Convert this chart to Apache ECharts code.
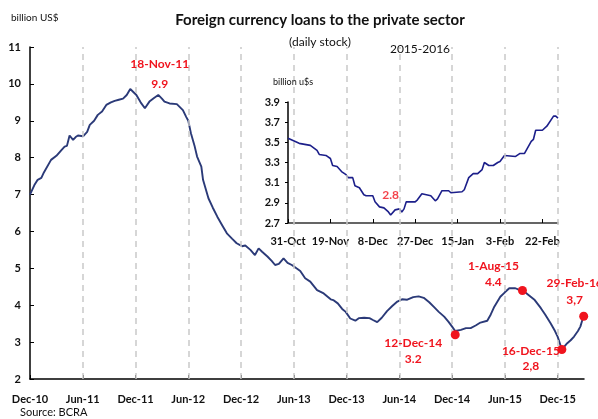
<!DOCTYPE html>
<html><head><meta charset="utf-8">
<script src="https://cdn.jsdelivr.net/npm/echarts@6/dist/echarts.min.js"></script>
<style>html,body{margin:0;padding:0;background:#fff}#c{width:598px;height:419px}</style>
</head><body><div id="c"></div>
<script>
// ---- main series: stock of foreign currency loans (billion US$) ----
const mainDates = ['2010-12-01','2010-12-16','2010-12-28','2011-01-10','2011-01-19','2011-02-12','2011-03-01','2011-03-18','2011-03-30','2011-04-07','2011-04-16','2011-04-22','2011-04-28','2011-05-07','2011-05-15','2011-06-02','2011-06-16','2011-06-25','2011-07-10','2011-07-23','2011-08-07','2011-08-22','2011-09-07','2011-09-20','2011-10-04','2011-10-19','2011-11-01','2011-11-13','2011-11-18','2011-12-04','2011-12-19','2012-01-03','2012-01-19','2012-02-04','2012-02-18','2012-03-01','2012-03-10','2012-03-28','2012-04-22','2012-05-13','2012-05-25','2012-06-01','2012-06-10','2012-06-23','2012-07-01','2012-07-16','2012-07-22','2012-08-10','2012-08-25','2012-09-10','2012-09-28','2012-10-13','2012-11-01','2012-11-16','2012-12-04','2012-12-16','2013-01-03','2013-01-19','2013-02-01','2013-02-12','2013-03-01','2013-03-16','2013-03-28','2013-04-10','2013-04-26','2013-05-10','2013-05-25','2013-06-10','2013-06-23','2013-07-10','2013-07-28','2013-08-21','2013-09-13','2013-10-07','2013-10-16','2013-11-01','2013-11-16','2013-11-28','2013-12-14','2014-01-01','2014-01-13','2014-02-01','2014-02-18','2014-03-01','2014-03-16','2014-04-01','2014-04-19','2014-05-07','2014-05-25','2014-06-10','2014-06-28','2014-07-19','2014-08-07','2014-08-25','2014-09-13','2014-09-28','2014-10-16','2014-11-04','2014-11-19','2014-12-01','2014-12-12','2015-01-01','2015-01-19','2015-02-04','2015-02-20','2015-03-08','2015-04-01','2015-04-13','2015-04-25','2015-05-16','2015-06-01','2015-06-16','2015-07-07','2015-07-19','2015-08-01','2015-08-19','2015-09-13','2015-10-04','2015-10-19','2015-11-07','2015-11-22','2015-12-01','2015-12-16','2016-01-04','2016-01-16','2016-01-28','2016-02-10','2016-02-18','2016-02-29'];
const mainValues = [7.0,7.25,7.4,7.45,7.6,7.94,8.05,8.2,8.3,8.32,8.6,8.58,8.48,8.56,8.6,8.58,8.7,8.89,9.0,9.16,9.25,9.43,9.5,9.54,9.57,9.6,9.7,9.86,9.88,9.7,9.5,9.34,9.52,9.62,9.7,9.6,9.52,9.47,9.45,9.29,9.1,9.0,8.66,8.3,8.03,7.76,7.4,6.9,6.65,6.4,6.15,5.95,5.8,5.68,5.6,5.62,5.5,5.36,5.54,5.45,5.32,5.2,5.09,5.12,5.27,5.15,5.09,5.0,4.93,4.73,4.64,4.41,4.32,4.16,4.14,4.05,3.9,3.82,3.64,3.58,3.65,3.66,3.65,3.6,3.54,3.66,3.84,3.98,4.1,4.16,4.15,4.22,4.24,4.2,4.08,3.96,3.82,3.69,3.55,3.42,3.3,3.33,3.38,3.38,3.45,3.53,3.58,3.75,3.96,4.23,4.35,4.46,4.46,4.42,4.41,4.3,4.14,3.92,3.75,3.51,3.3,3.15,2.8,2.97,3.05,3.15,3.3,3.42,3.72];
const mainTickLabels = ['Dec-10','Jun-11','Dec-11','Jun-12','Dec-12','Jun-13','Dec-13','Jun-14','Dec-14','Jun-15','Dec-15'];

// ---- inset: 2015-2016 daily stock ----
const insetDates = ['2015-10-31','2015-11-02','2015-11-05','2015-11-10','2015-11-13','2015-11-14','2015-11-17','2015-11-19','2015-11-20','2015-11-22','2015-11-24','2015-11-26','2015-11-27','2015-11-29','2015-11-30','2015-12-02','2015-12-04','2015-12-05','2015-12-08','2015-12-09','2015-12-11','2015-12-13','2015-12-15','2015-12-16','2015-12-18','2015-12-20','2015-12-21','2015-12-22','2015-12-23','2015-12-27','2015-12-28','2015-12-30','2016-01-01','2016-01-03','2016-01-05','2016-01-06','2016-01-08','2016-01-11','2016-01-12','2016-01-17','2016-01-18','2016-01-20','2016-01-22','2016-01-24','2016-01-26','2016-01-27','2016-01-29','2016-01-31','2016-02-02','2016-02-03','2016-02-05','2016-02-10','2016-02-12','2016-02-14','2016-02-17','2016-02-18','2016-02-19','2016-02-22','2016-02-24','2016-02-27','2016-02-28','2016-02-29'];
const insetValues = [3.54,3.52,3.49,3.47,3.42,3.38,3.37,3.34,3.27,3.26,3.21,3.18,3.15,3.15,3.07,3.05,2.98,2.97,2.97,2.91,2.86,2.85,2.81,2.78,2.83,2.84,2.81,2.84,2.91,2.91,2.93,2.99,2.98,2.97,2.92,2.94,3.02,3.02,3.0,3.01,3.03,3.15,3.19,3.19,3.23,3.30,3.27,3.27,3.30,3.31,3.37,3.36,3.39,3.39,3.51,3.53,3.62,3.62,3.66,3.76,3.76,3.74];
const insetTickLabels = ['31-Oct','19-Nov','8-Dec','27-Dec','15-Jan','3-Feb','22-Feb'];
const insetYTicks = [2.7,2.9,3.1,3.3,3.5,3.7,3.9];
const insetMinDate = '2015-12-16';
const insetMinLabel = '2.8';

// ---- annotations on the main chart ----
const annotDates = ['2011-11-18','2014-12-12','2015-08-01','2015-12-16','2016-02-29'];
const annotValues = [9.9,3.2,4.4,2.8,3.7];
const annotValueText = ['9.9','3.2','4.4','2,8','3,7'];
const annotDateText = ['18-Nov-11','12-Dec-14','1-Aug-15','16-Dec-15','29-Feb-16'];
const annotHasDot = [false,true,true,true,true];

// layout only (label offsets relative to the annotated point, and line spacing)
const annotOffsets = [[28,-13],[-42,16],[-29,-16],[-31,9],[-9,-25]];
const annotLineHeights = [20,16,16,15,17];

function parse(s){return s.split('-').map(Number);}
function monthIdx(s){const [y,m,d]=parse(s);const dim=new Date(Date.UTC(y,m,0)).getUTCDate();return (y-2010)*12+(m-12)+(d-1)/dim;}
function dayIdx(s){const [y,m,d]=parse(s);return (Date.UTC(y,m-1,d)-Date.UTC(2015,9,31))/86400000;}

const mainTicks = mainTickLabels.map((_,i)=>i*6);
const insetTicks = insetTickLabels.map((_,i)=>i*19);
const FONT = 'Lato';
const RED = '#f0141e';

function txt(text,left,top,size,weight,align){
  return {text:text,left:left,top:top,padding:0,textAlign:align||'left',
    textStyle:{fontFamily:FONT,fontSize:size,fontWeight:weight,color:'#111'}};
}

const chart = echarts.init(document.getElementById('c'), null, {renderer:'canvas'});
chart.setOption({
  animation:false,
  backgroundColor:'#fff',
  textStyle:{fontFamily:FONT},
  title:[
    txt('Foreign currency loans to the private sector',320,13,15,'bold','center'),
    txt('(daily stock)',320,36,12,'normal','center'),
    txt('2015-2016',420,43,12,'normal','center'),
    txt('billion US$',11,13,10,'normal'),
    txt('billion u$s',273,78,9,'normal'),
    txt('Source: BCRA',20,407,11,'normal')
  ],
  grid:[
    {left:30,top:47,width:554,height:332},
    {left:288,top:102,width:270,height:121}
  ],
  xAxis:[
    {gridIndex:0,type:'value',min:0,max:monthIdx('2016-03-01'),
     axisLine:{show:true,lineStyle:{color:'#000',width:1.5}},
     axisTick:{show:true,inside:true,length:4,customValues:mainTicks,lineStyle:{color:'#000',width:1}},
     axisLabel:{customValues:mainTicks,margin:15,fontFamily:FONT,fontSize:11,fontWeight:'bold',color:'#111',
       formatter:v=>mainTickLabels[Math.round(v/6)]||''},
     splitLine:{show:false}},
    {gridIndex:1,type:'value',min:0,max:dayIdx('2016-02-29'),
     axisLine:{show:true,lineStyle:{color:'#333',width:1.5}},
     axisTick:{show:true,inside:true,length:4,customValues:insetTicks,lineStyle:{color:'#000',width:1}},
     axisLabel:{customValues:insetTicks,margin:13,fontFamily:FONT,fontSize:11,fontWeight:'bold',color:'#111',
       formatter:v=>insetTickLabels[Math.round(v/19)]||''},
     splitLine:{show:false}}
  ],
  yAxis:[
    {gridIndex:0,type:'value',min:2,max:11,interval:1,
     axisLine:{show:true,lineStyle:{color:'#000',width:1.5}},
     axisTick:{show:true,inside:true,length:4,lineStyle:{color:'#000',width:1}},
     axisLabel:{margin:9,fontFamily:FONT,fontSize:11,fontWeight:'bold',color:'#111'},
     splitLine:{show:false}},
    {gridIndex:1,type:'value',min:2.7,max:3.9,
     axisLine:{show:true,lineStyle:{color:'#000',width:1.5}},
     axisTick:{show:true,inside:false,length:3,customValues:insetYTicks,lineStyle:{color:'#000',width:1}},
     axisLabel:{customValues:insetYTicks,margin:8,fontFamily:FONT,fontSize:11,fontWeight:'bold',color:'#111',
       formatter:v=>v.toFixed(1)},
     splitLine:{show:false}}
  ],
  series:[
    {type:'line',xAxisIndex:0,yAxisIndex:0,data:[],z:1,silent:true,
     markLine:{silent:true,symbol:'none',label:{show:false},
       lineStyle:{color:'#c9c9c9',type:[6,5],width:1.5},
       data:mainTicks.slice(1).map(v=>({xAxis:v}))}},
    {type:'line',xAxisIndex:0,yAxisIndex:0,z:3,showSymbol:false,symbol:'none',
     lineStyle:{color:'#2b3a78',width:1.9},
     data:mainDates.map((d,i)=>[monthIdx(d),mainValues[i]])},
    {type:'line',xAxisIndex:1,yAxisIndex:1,z:3,showSymbol:false,symbol:'none',
     lineStyle:{color:'#1c1f8a',width:1.6},
     data:insetDates.map((d,i)=>[dayIdx(d),insetValues[i]])},
    {type:'scatter',xAxisIndex:1,yAxisIndex:1,z:4,symbolSize:0,
     label:{show:true,position:'inside',offset:[0,-18],formatter:()=>insetMinLabel,
       fontFamily:FONT,fontSize:12,fontWeight:'bold',color:RED},
     data:[[dayIdx(insetMinDate),Number(insetMinLabel)]]},
    {type:'scatter',xAxisIndex:0,yAxisIndex:0,z:5,
     data:annotDates.map((d,i)=>({
       value:[monthIdx(d),annotValues[i]],
       symbolSize:annotHasDot[i]?9:0,
       itemStyle:{color:RED,opacity:1},
       label:{show:true,position:'inside',offset:annotOffsets[i],
         formatter:annotDateText[i]+'\n'+annotValueText[i],
         align:'center',lineHeight:annotLineHeights[i],fontFamily:FONT,fontSize:12,fontWeight:'bold',color:RED}
     }))}
  ]
});
</script></body></html>
